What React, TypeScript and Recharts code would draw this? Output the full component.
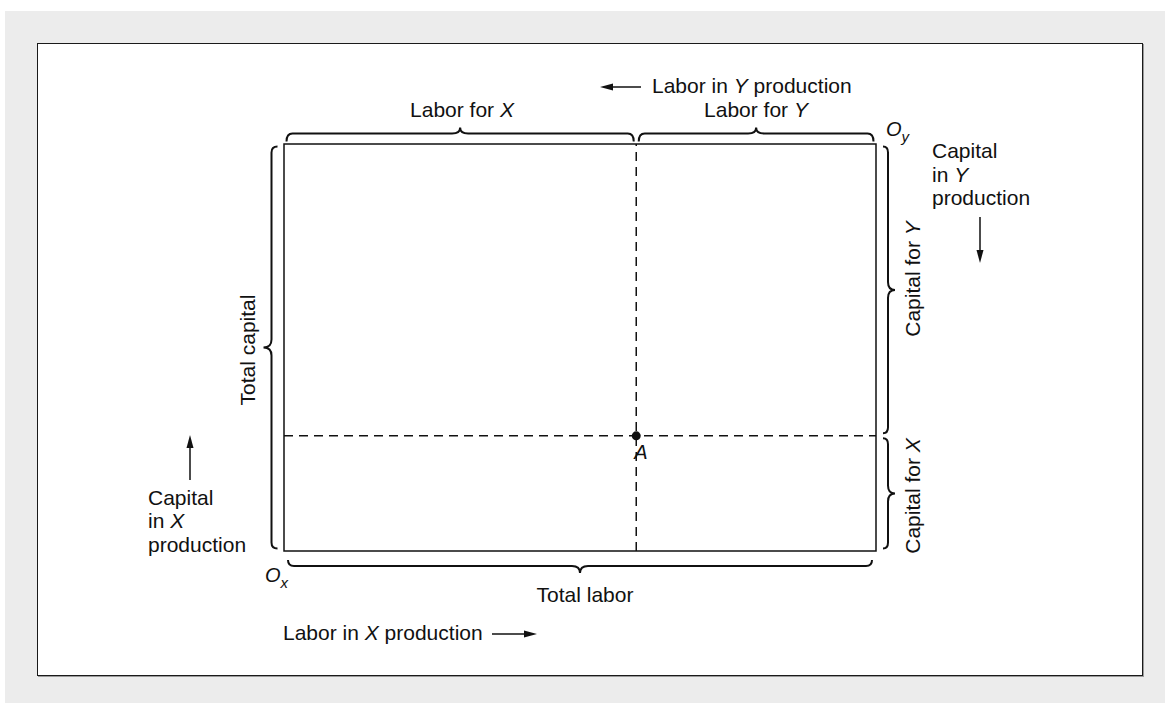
import { ScatterChart, Scatter, XAxis, YAxis, ReferenceLine, ReferenceArea } from "recharts";

// the box: both factors normalised to 100
const laborDomain = [0, 100];
const capitalDomain = [0, 100];
// allocation at point A (share of each factor that goes to X)
const laborForX = [59.5];
const capitalForX = [28.3];
const points = [{ name: "A", labor: laborForX[0], capital: capitalForX[0] }];

const INK = "#111";
const FONT = "'Liberation Sans', Arial, Helvetica, sans-serif";

type Side = "top" | "bottom" | "left" | "right";
const normals: Record<Side, [number, number]> = {
  top: [0, -1],
  bottom: [0, 1],
  left: [-1, 0],
  right: [1, 0],
};

// curly brace drawn along a reference segment, pushed outward from the box
function brace(side: Side, gap: number, curl: number, tip: number, inset = 2.5) {
  return (props: any) => {
    const { x1, y1, x2, y2 } = props;
    const len = Math.hypot(x2 - x1, y2 - y1);
    const ux = (x2 - x1) / len;
    const uy = (y2 - y1) / len;
    const [nx, ny] = normals[side];
    const pt = (s: number, k: number) =>
      `${(x1 + ux * s + nx * k).toFixed(2)},${(y1 + uy * s + ny * k).toFixed(2)}`;
    const r = 6;
    const tr = 8;
    const mid = len / 2;
    const d = [
      `M${pt(inset, gap - curl)}`,
      `Q${pt(inset, gap)} ${pt(inset + r, gap)}`,
      `L${pt(mid - tr, gap)}`,
      `Q${pt(mid, gap)} ${pt(mid, gap + tip)}`,
      `Q${pt(mid, gap)} ${pt(mid + tr, gap)}`,
      `L${pt(len - inset - r, gap)}`,
      `Q${pt(len - inset, gap)} ${pt(len - inset, gap - curl)}`,
    ].join(" ");
    return <path d={d} fill="none" stroke={INK} strokeWidth={2} />;
  };
}

function Arrow({ x1, y1, x2, y2 }: { x1: number; y1: number; x2: number; y2: number }) {
  const len = Math.hypot(x2 - x1, y2 - y1);
  const ux = (x2 - x1) / len;
  const uy = (y2 - y1) / len;
  const hl = 13;
  const hw = 3.5;
  const bx = x2 - ux * hl;
  const by = y2 - uy * hl;
  return (
    <g>
      <line x1={x1} y1={y1} x2={bx} y2={by} stroke={INK} strokeWidth={1.5} />
      <path
        d={`M${x2},${y2} L${bx - uy * hw},${by + ux * hw} L${bx + uy * hw},${by - ux * hw} Z`}
        fill={INK}
      />
    </g>
  );
}

function VText({ x, y, children }: { x: number; y: number; children: any }) {
  return (
    <text x={x} y={y} textAnchor="middle" transform={`rotate(-90 ${x} ${y})`}>
      {children}
    </text>
  );
}

const pointShape = (p: any) => (
  <g>
    <circle cx={p.cx} cy={p.cy} r={4.5} fill={INK} />
    <text x={p.cx - 2} y={p.cy + 23} fontStyle="italic" fontSize={20} fontFamily={FONT} fill={INK}>
      A
    </text>
  </g>
);

export default function App() {
  const lx = laborForX[0];
  const ky = capitalForX[0];
  const [l0, l1] = laborDomain;
  const [k0, k1] = capitalDomain;
  return (
    <div style={{ position: "absolute", left: 0, top: 0, width: 1165, height: 703, background: "#fff", overflow: "hidden" }}>
      <div style={{ position: "absolute", left: 5, top: 11, right: 0, bottom: 0, background: "#ececec" }} />
      <div
        style={{
          position: "absolute",
          left: 37,
          top: 43,
          width: 1104,
          height: 631,
          background: "#fff",
          border: "1.5px solid #1a1a1a",
          boxShadow: "1px 1px 0 #9a9a9a",
        }}
      />
      <div style={{ position: "absolute", left: 0, top: 0 }}>
        <ScatterChart width={1165} height={703} margin={{ top: 144, right: 289, bottom: 152, left: 284 }}>
          <XAxis type="number" dataKey="labor" domain={laborDomain} hide />
          <YAxis type="number" dataKey="capital" domain={capitalDomain} hide />
          <ReferenceArea x1={l0} x2={l1} y1={k0} y2={k1} fill="none" stroke={INK} strokeWidth={1.5} ifOverflow="visible" />
          <ReferenceLine x={lx} stroke={INK} strokeWidth={1.5} strokeDasharray="9 6" />
          <ReferenceLine y={ky} stroke={INK} strokeWidth={1.5} strokeDasharray="9 6" />
          {/* labor braces on top, total labor below */}
          <ReferenceLine segment={[{ x: l0, y: k1 }, { x: lx, y: k1 }]} ifOverflow="visible" shape={brace("top", 10.5, 8, 6)} />
          <ReferenceLine segment={[{ x: lx, y: k1 }, { x: l1, y: k1 }]} ifOverflow="visible" shape={brace("top", 10.5, 8, 6)} />
          <ReferenceLine segment={[{ x: l0, y: k0 }, { x: l1, y: k0 }]} ifOverflow="visible" shape={brace("bottom", 15, 6, 7, 4)} />
          {/* capital braces */}
          <ReferenceLine segment={[{ x: l1, y: k1 }, { x: l1, y: ky }]} ifOverflow="visible" shape={brace("right", 12, 5, 7)} />
          <ReferenceLine segment={[{ x: l1, y: ky }, { x: l1, y: k0 }]} ifOverflow="visible" shape={brace("right", 12, 5, 7)} />
          <ReferenceLine segment={[{ x: l0, y: k0 }, { x: l0, y: k1 }]} ifOverflow="visible" shape={brace("left", 12.5, 6, 8)} />
          <Scatter data={points} shape={pointShape} isAnimationActive={false} />
        </ScatterChart>
      </div>
      <svg
        width={1165}
        height={703}
        style={{ position: "absolute", left: 0, top: 0, pointerEvents: "none" }}
        fontFamily={FONT}
        fontSize={21}
        fill={INK}
      >
        <Arrow x1={641} y1={87} x2={600} y2={87} />
        <text x={652} y={93}>
          Labor in <tspan fontStyle="italic">Y</tspan> production
        </text>
        <text x={462} y={117} textAnchor="middle">
          Labor for <tspan fontStyle="italic">X</tspan>
        </text>
        <text x={756} y={117} textAnchor="middle">
          Labor for <tspan fontStyle="italic">Y</tspan>
        </text>
        <text x={886} y={136} fontStyle="italic" fontSize={20}>
          O<tspan fontSize={15} dy={6}>y</tspan>
        </text>
        <text x={932} y={158}>Capital</text>
        <text x={932} y={182}>
          in <tspan fontStyle="italic">Y</tspan>
        </text>
        <text x={932} y={205}>production</text>
        <Arrow x1={980} y1={217} x2={980} y2={263} />
        <VText x={920} y={279}>
          Capital for <tspan fontStyle="italic">Y</tspan>
        </VText>
        <VText x={920} y={496}>
          Capital for <tspan fontStyle="italic">X</tspan>
        </VText>
        <VText x={255} y={350}>
          Total capital
        </VText>
        <Arrow x1={190} y1={480} x2={190} y2={435} />
        <text x={148} y={505}>Capital</text>
        <text x={148} y={528}>
          in <tspan fontStyle="italic">X</tspan>
        </text>
        <text x={148} y={552}>production</text>
        <text x={265} y={582} fontStyle="italic" fontSize={20}>
          O<tspan fontSize={15} dy={6}>x</tspan>
        </text>
        <text x={585} y={602} textAnchor="middle">
          Total labor
        </text>
        <text x={283} y={640}>
          Labor in <tspan fontStyle="italic">X</tspan> production
        </text>
        <Arrow x1={492} y1={634} x2={537} y2={634} />
      </svg>
    </div>
  );
}
